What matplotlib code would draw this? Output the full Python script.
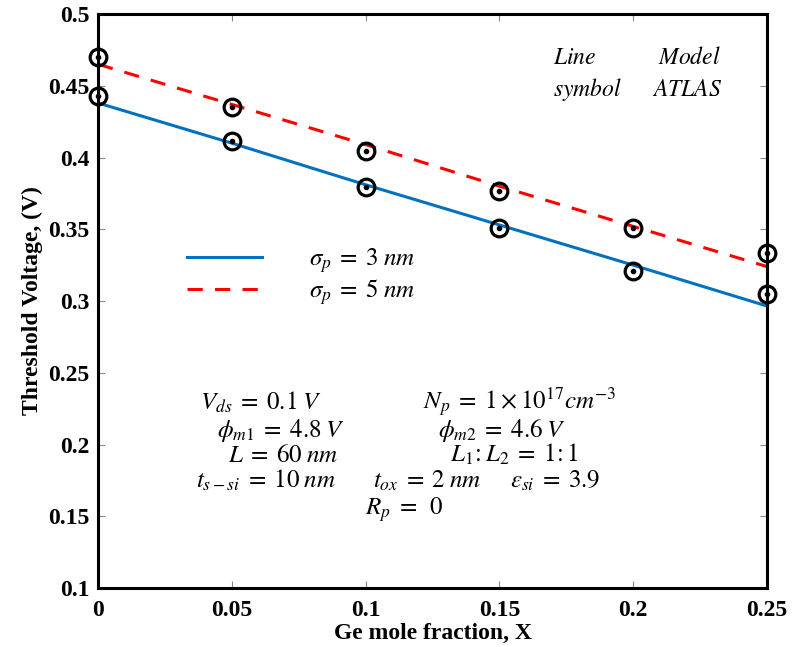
import numpy as np
import matplotlib.pyplot as plt

plt.rcParams['font.family'] = 'Liberation Serif'
plt.rcParams['mathtext.fontset'] = 'stix'

# Ge mole fraction
x = [0, 0.05, 0.1, 0.15, 0.2, 0.25]

# model lines
vth_model_3nm = [0.438, 0.410, 0.381, 0.353, 0.325, 0.2965]
vth_model_5nm = [0.465, 0.437, 0.409, 0.380, 0.352, 0.324]

# ATLAS symbols
vth_atlas_3nm = [0.443, 0.4115, 0.3795, 0.351, 0.321, 0.305]
vth_atlas_5nm = [0.470, 0.435, 0.4045, 0.3767, 0.351, 0.3335]

xticks = [0, 0.05, 0.1, 0.15, 0.2, 0.25]
xticklabels = ['0', '0.05', '0.1', '0.15', '0.2', '0.25']
yticks = [0.1, 0.15, 0.2, 0.25, 0.3, 0.35, 0.4, 0.45, 0.5]
yticklabels = ['0.1', '0.15', '0.2', '0.25', '0.3', '0.35', '0.4', '0.45', '0.5']

W, H = 793, 647
fig = plt.figure(figsize=(W / 100, H / 100), dpi=100)
ax = fig.add_axes([98 / W, 1 - 588 / H, (767 - 98) / W, (588 - 14) / H])

l1, = ax.plot(x, vth_model_3nm, color='#0072BD', lw=2.2, label=r'$\sigma_p\;=\;3\;nm$')
l2, = ax.plot(x, vth_model_5nm, color='#ff0000', lw=2.2, ls=(0, (5, 4)),
              label=r'$\sigma_p\;=\;5\;nm$')

for ys in (vth_atlas_3nm, vth_atlas_5nm):
    ax.plot(x, ys, ls='none', marker='o', ms=12, mfc='none', mec='black',
            mew=2.3, clip_on=False, zorder=5)
    ax.plot(x, ys, ls='none', marker='o', ms=3, color='black',
            clip_on=False, zorder=5)

ax.set_xlim(0, 0.25)
ax.set_ylim(0.1, 0.5)
ax.set_xticks(xticks)
ax.set_xticklabels(xticklabels)
ax.set_yticks(yticks)
ax.set_yticklabels(yticklabels)
ax.tick_params(direction='in', top=True, right=True, length=5, width=0.8,
               color='#888888', labelsize=17)
ax.tick_params(axis='x', pad=9)
ax.tick_params(axis='y', pad=6)
for lab in ax.get_xticklabels() + ax.get_yticklabels():
    lab.set_fontweight('bold')
for s in ax.spines.values():
    s.set_linewidth(2.2)

ax.set_xlabel('Ge mole fraction, X', fontsize=17, fontweight='bold', labelpad=1)
ax.set_ylabel('Threshold Voltage, (V)', fontsize=17, fontweight='bold', labelpad=4)

leg = ax.legend(handles=[l1, l2], loc='upper left',
                bbox_to_anchor=((164 - 98) / (767 - 98), 1 - (224 - 14) / (588 - 14)),
                frameon=False, fontsize=18, handlelength=3.0, handletextpad=1.9,
                labelspacing=0.09)

def ftext(px, py, s, size=18):
    fig.text(px / W, 1 - py / H, s, fontsize=size, va='baseline')

ftext(200, 410, r'$V_{ds}\;=\;0.1\;V$')
ftext(423, 410, r'$N_p\;=\;1\times10^{17}cm^{-3}$')
ftext(217, 437, r'$\phi_{m1}\;=\;4.8\;V$')
ftext(438, 437, r'$\phi_{m2}\;=\;4.6\;V$')
ftext(228, 462, r'$L\;=\;60\;nm$')
ftext(450, 462, r'$L_1\!:L_2\;=\;1\!:1$')
ftext(196, 488, r'$t_{s-si}\;=\;10\;nm$')
ftext(373, 488, r'$t_{ox}\;=\;2\;nm$')
ftext(510, 488, r'$\varepsilon_{si}\;=\;3.9$')
ftext(365, 515, r'$R_p\;=\;\;0$')

ftext(553, 64, r'$Line$', 17)
ftext(658, 64, r'$Model$', 17)
ftext(553, 96, r'$symbol$', 17)
ftext(652, 96, r'$ATLAS$', 17)

fig.savefig('out.png', dpi=100)
